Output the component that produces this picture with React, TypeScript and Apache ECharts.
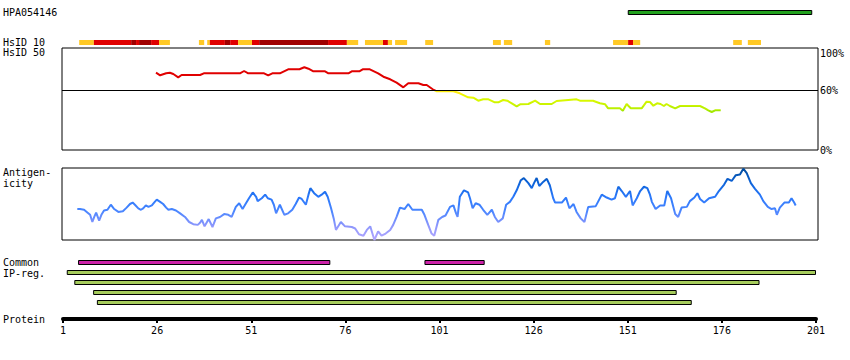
import React, { useEffect, useRef } from 'react';
import * as echarts from 'echarts';

// ---------- data ----------
const proteinTicks = [1, 26, 51, 76, 101, 126, 151, 176, 201];
const identityTickLabels = [0, 60, 100];
const identityThreshold = 60;

const antibodyId = 'HPA054146';
const antibodyStart = [151];
const antibodyEnd = [200];

// HsID 10 segments: level 0 = low (yellow), 1 = mid (red), 2 = high (dark red)
const hsidStart = [5.3, 9.2, 19.1, 20.4, 21.2, 24.4, 26.5, 37.1, 39.3, 40.0, 44.0, 45.4, 47.5, 51.2, 53.1, 71.4, 76.4, 81.2, 86.0, 87.3, 89.2, 97.2, 115.2, 118.1, 129.0, 147.1, 151.1, 152.4, 179.0, 182.9];
const hsidEnd = [9.2, 19.1, 20.4, 21.2, 24.4, 26.5, 29.4, 38.5, 40.0, 44.0, 45.4, 47.5, 51.2, 53.1, 71.4, 76.4, 79.4, 86.0, 87.3, 88.4, 92.4, 99.3, 117.3, 120.3, 130.4, 151.1, 152.4, 154.3, 181.3, 186.4];
const hsidLevel = [0, 1, 2, 1, 2, 1, 0, 0, 0, 1, 2, 1, 0, 1, 2, 1, 0, 0, 1, 0, 0, 0, 0, 0, 0, 0, 1, 0, 0, 0];

// HsID 50 identity (%)
const identityPos = [25.7, 26.8, 28.4, 29.4, 30.3, 31.6, 32.5, 37.4, 38.4, 48.0, 49.1, 50.2, 54.4, 55.5, 56.6, 58.6, 60.8, 63.8, 65.1, 66.2, 67.5, 70.6, 71.5, 76.8, 77.7, 79.7, 80.6, 82.5, 84.7, 86.1, 87.9, 89.6, 91.4, 92.7, 95.4, 96.7, 97.6, 99.2, 100.3, 104.7, 106.4, 108.6, 110.0, 111.3, 112.6, 114.0, 115.7, 116.6, 117.9, 119.0, 120.2, 121.5, 122.4, 124.6, 126.4, 127.7, 130.8, 132.1, 135.2, 137.4, 138.3, 141.8, 143.6, 145.0, 145.8, 148.9, 149.7, 150.7, 151.8, 154.7, 156.0, 156.9, 157.8, 158.8, 159.7, 160.6, 161.3, 162.2, 163.6, 164.9, 170.2, 171.5, 172.4, 173.3, 174.2, 175.7];
const identityVal = [77.3, 74.7, 76.7, 77.3, 76, 72.7, 75, 75, 76.7, 76.7, 79, 76.7, 76.7, 74.7, 76.7, 76.7, 80.7, 80.7, 82.7, 81.3, 78.7, 78.7, 76.7, 76.7, 78.7, 78.7, 80.7, 80.7, 76.7, 73.3, 70.7, 67.3, 62.7, 66.7, 66.7, 65, 65, 60.7, 58.7, 58.7, 56.7, 52.7, 52.3, 49.3, 50.7, 50.7, 47.7, 47.7, 50, 49.3, 46.7, 43.7, 45.7, 46, 49.3, 46, 46, 49, 50, 50.7, 49.3, 49.3, 46.7, 45.7, 41.7, 41.7, 39.3, 46, 41.7, 41.7, 48.3, 48, 44.3, 46.7, 46, 44, 46, 44, 41.7, 44, 44, 41.7, 39.7, 38, 39.7, 39.7];

// Antigenicity (relative score 0..1)
const antigenPos = [4.8, 5.5, 6.6, 7.3, 8.2, 8.8, 9.3, 9.8, 10.6, 11.2, 11.9, 12.8, 13.7, 14.6, 15.7, 16.9, 17.9, 18.8, 19.5, 20.1, 21.0, 21.7, 22.3, 23.0, 23.7, 24.6, 25.2, 25.9, 26.8, 27.6, 28.4, 29.0, 29.9, 31.0, 32.1, 33.4, 34.5, 35.6, 36.8, 37.4, 37.9, 38.6, 39.7, 40.7, 41.6, 42.7, 43.8, 44.9, 45.8, 46.9, 47.8, 48.7, 49.6, 50.4, 51.4, 52.3, 52.7, 53.8, 54.7, 55.4, 56.4, 57.0, 57.6, 58.6, 59.8, 60.8, 61.9, 62.8, 63.7, 64.4, 65.5, 66.2, 66.7, 67.7, 68.8, 69.7, 70.6, 71.3, 72.2, 72.9, 73.5, 74.8, 75.9, 77.7, 78.6, 79.6, 80.8, 81.7, 82.6, 83.7, 84.7, 85.6, 86.7, 87.9, 88.7, 89.6, 90.5, 91.7, 92.7, 93.8, 96.3, 97.0, 98.0, 98.9, 99.6, 100.7, 101.7, 102.6, 103.8, 104.7, 105.4, 105.8, 106.4, 107.5, 108.6, 109.1, 109.8, 110.6, 111.6, 112.6, 113.7, 114.9, 115.7, 116.6, 117.8, 118.7, 119.7, 120.6, 121.5, 122.6, 123.4, 124.6, 125.5, 126.1, 126.8, 127.5, 128.6, 129.5, 130.3, 131.2, 131.7, 133.5, 134.6, 135.5, 136.6, 137.4, 138.5, 139.5, 140.5, 142.5, 143.2, 144.1, 145.4, 146.7, 147.6, 148.5, 149.4, 150.5, 151.6, 152.3, 153.4, 154.3, 155.3, 156.2, 156.9, 157.4, 158.4, 159.6, 160.7, 161.5, 162.5, 163.6, 164.4, 165.3, 166.7, 167.5, 168.7, 169.5, 170.2, 171.3, 172.6, 174.2, 175.2, 176.6, 177.5, 178.6, 179.7, 180.8, 181.7, 182.6, 183.7, 184.8, 186.1, 187.0, 188.2, 189.2, 190.1, 190.6, 191.4, 192.6, 193.8, 194.5, 195.2, 195.6];
const antigenVal = [0.43, 0.43, 0.42, 0.39, 0.35, 0.25, 0.32, 0.38, 0.27, 0.35, 0.41, 0.42, 0.49, 0.43, 0.39, 0.40, 0.45, 0.50, 0.52, 0.49, 0.44, 0.42, 0.44, 0.48, 0.46, 0.48, 0.52, 0.56, 0.53, 0.50, 0.45, 0.42, 0.43, 0.41, 0.37, 0.32, 0.25, 0.22, 0.21, 0.24, 0.28, 0.19, 0.29, 0.18, 0.30, 0.32, 0.36, 0.35, 0.32, 0.46, 0.51, 0.43, 0.51, 0.58, 0.66, 0.60, 0.54, 0.58, 0.63, 0.58, 0.56, 0.49, 0.37, 0.49, 0.35, 0.37, 0.42, 0.50, 0.59, 0.57, 0.49, 0.63, 0.72, 0.65, 0.60, 0.63, 0.67, 0.60, 0.44, 0.30, 0.14, 0.25, 0.19, 0.18, 0.16, 0.08, 0.06, 0.14, 0.19, 0.00, 0.12, 0.06, 0.09, 0.14, 0.21, 0.32, 0.45, 0.43, 0.50, 0.42, 0.42, 0.35, 0.21, 0.09, 0.06, 0.28, 0.32, 0.34, 0.46, 0.48, 0.37, 0.32, 0.60, 0.69, 0.66, 0.58, 0.44, 0.51, 0.49, 0.42, 0.35, 0.42, 0.32, 0.25, 0.30, 0.49, 0.53, 0.60, 0.69, 0.83, 0.86, 0.79, 0.72, 0.79, 0.86, 0.75, 0.81, 0.85, 0.76, 0.58, 0.52, 0.52, 0.59, 0.44, 0.50, 0.39, 0.30, 0.25, 0.46, 0.47, 0.54, 0.63, 0.59, 0.56, 0.58, 0.74, 0.68, 0.60, 0.68, 0.48, 0.58, 0.68, 0.74, 0.72, 0.63, 0.53, 0.43, 0.48, 0.48, 0.68, 0.58, 0.36, 0.32, 0.45, 0.46, 0.54, 0.59, 0.65, 0.57, 0.52, 0.58, 0.60, 0.68, 0.77, 0.85, 0.82, 0.90, 0.91, 0.99, 0.93, 0.79, 0.71, 0.63, 0.54, 0.46, 0.43, 0.44, 0.35, 0.45, 0.52, 0.52, 0.58, 0.52, 0.48];

// Common epitope regions and IP regions
const commonStart = [5, 97];
const commonEnd = [72, 113];
const ipStart = [2, 4, 9, 10];
const ipEnd = [201, 186, 164, 168];

// ---------- layout / style ----------
const FONT = '10px "DejaVu Sans Mono", "Liberation Mono", monospace';
const PX = 753 / 200;
const BOX_MIN = 1 - 1 / PX;
const BOX_MAX = 201 + 2 / PX;
const ROW_Y = [10, 40, 260, 270, 280, 290, 300];
const ROW_FILL = ['#22a11e', '', '#cc22a8', '#a6cc5c', '#a6cc5c', '#a6cc5c', '#a6cc5c'];
const HSID_COLORS = ['#ffc926', '#e00000', '#a00000'];

export default function App() {
  const ref = useRef<HTMLDivElement>(null);
  useEffect(() => {
    const chart = echarts.init(ref.current as HTMLDivElement, null, { renderer: 'svg' });

    const tracks: number[][] = [];
    antibodyStart.forEach((s, i) => tracks.push([s, antibodyEnd[i], 0, 0]));
    hsidStart.forEach((s, i) => tracks.push([s, hsidEnd[i], 1, hsidLevel[i]]));
    commonStart.forEach((s, i) => tracks.push([s, commonEnd[i], 2, 0]));
    ipStart.forEach((s, i) => tracks.push([s, ipEnd[i], 3 + i, 0]));

    const label = (text: string, y: number) => ({
      type: 'text',
      x: 3,
      y,
      silent: true,
      style: { text, font: FONT, fill: '#000', verticalAlign: 'middle', align: 'left' },
    });

    const maxLabel = identityTickLabels[identityTickLabels.length - 1];

    const option: any = {
      animation: false,
      backgroundColor: '#fff',
      grid: [
        { left: 62, top: 48, width: 756, height: 102, show: true, borderColor: '#000', borderWidth: 1, backgroundColor: 'transparent' },
        { left: 62, top: 168, width: 756, height: 72, show: true, borderColor: '#000', borderWidth: 1, backgroundColor: 'transparent' },
        { left: 63, top: 300, width: 753, height: 19 },
      ],
      xAxis: [
        { gridIndex: 0, type: 'value', min: BOX_MIN, max: BOX_MAX, show: false },
        { gridIndex: 1, type: 'value', min: BOX_MIN, max: BOX_MAX, show: false },
        {
          gridIndex: 2,
          type: 'value',
          min: proteinTicks[0],
          max: proteinTicks[proteinTicks.length - 1],
          interval: proteinTicks[1] - proteinTicks[0],
          axisLine: { show: true, onZero: false, lineStyle: { color: '#000', width: 4 } },
          axisTick: { show: true, length: 4, lineStyle: { color: '#000', width: 2 } },
          axisLabel: { color: '#000', fontFamily: '"DejaVu Sans Mono", monospace', fontSize: 10, margin: 6 },
          splitLine: { show: false },
        },
      ],
      yAxis: [
        {
          gridIndex: 0,
          type: 'value',
          min: 0,
          max: 102,
          interval: 20,
          position: 'right',
          axisLine: { show: false },
          axisTick: { show: false },
          splitLine: { show: false },
          axisLabel: {
            margin: 2,
            color: '#000',
            fontFamily: '"DejaVu Sans Mono", monospace',
            fontSize: 10,
            formatter: (v: number) => {
              if (identityTickLabels.indexOf(v) < 0) return '';
              return v === maxLabel ? '{low|' + v + '%}' : v + '%';
            },
            rich: {
              low: {
                fontFamily: '"DejaVu Sans Mono", monospace',
                fontSize: 10,
                color: '#000',
                padding: [6, 0, 0, 0],
              },
            },
          },
        },
        { gridIndex: 1, type: 'value', min: 0, max: 1, show: false },
        { gridIndex: 2, type: 'value', min: 0, max: 1, show: false },
      ],
      visualMap: [
        {
          type: 'piecewise',
          show: false,
          seriesIndex: 0,
          dimension: 1,
          pieces: [
            { gte: 60, color: '#e00000' },
            { gte: 56, lt: 60, color: '#ffee10' },
            { gte: 52, lt: 56, color: '#ecf800' },
            { gte: 48, lt: 52, color: '#d8f800' },
            { gte: 44, lt: 48, color: '#ccf400' },
            { gte: 40, lt: 44, color: '#bcf000' },
            { lt: 40, color: '#a4e800' },
          ],
        },
        {
          type: 'continuous',
          show: false,
          seriesIndex: 1,
          dimension: 1,
          min: 0,
          max: 1,
          inRange: { color: ['#b4a8ff', '#8c96fc', '#4a86ff', '#2a78fa', '#0c62d8', '#004a98'] },
        },
      ],
      series: [
        {
          type: 'line',
          xAxisIndex: 0,
          yAxisIndex: 0,
          data: identityPos.map((p, i) => [p, identityVal[i]]),
          symbol: 'none',
          lineStyle: { width: 2 },
          z: 3,
          markLine: {
            silent: true,
            symbol: ['none', 'none'],
            label: { show: false },
            lineStyle: { color: '#000', width: 1, type: 'solid' },
            data: [{ yAxis: identityThreshold }],
          },
        },
        {
          type: 'line',
          xAxisIndex: 1,
          yAxisIndex: 1,
          data: antigenPos.map((p, i) => [p, antigenVal[i]]),
          symbol: 'none',
          lineStyle: { width: 2 },
        },
        {
          type: 'custom',
          xAxisIndex: 2,
          yAxisIndex: 2,
          data: tracks,
          encode: { x: [0, 1], y: 2 },
          renderItem: (_params: any, api: any) => {
            const s = api.value(0);
            const e = api.value(1);
            const row = api.value(2);
            const lvl = api.value(3);
            const x0 = api.coord([s, 0])[0];
            const x1 = api.coord([e, 0])[0];
            const y = ROW_Y[row];
            if (row === 1) {
              return { type: 'rect', shape: { x: x0, y, width: x1 - x0, height: 5 }, style: { fill: HSID_COLORS[lvl] } };
            }
            return {
              type: 'rect',
              shape: { x: x0 + 0.5, y: y + 0.5, width: x1 - x0 - 1, height: 4 },
              style: { fill: ROW_FILL[row], stroke: '#000', lineWidth: 1 },
            };
          },
        },
      ],
      graphic: [
        label(antibodyId, 12),
        label('HsID 10', 42.5),
        label('HsID 50', 52.5),
        label('Antigen-', 172.5),
        label('icity', 183),
        label('Common', 262.5),
        label('IP-reg.', 273),
        label('Protein', 319),
      ],
    };
    chart.setOption(option);
    return () => chart.dispose();
  }, []);
  return (
    <div
      ref={ref}
      style={{ position: 'absolute', left: 0, top: 0, width: 850, height: 360, background: '#fff' }}
    />
  );
}
